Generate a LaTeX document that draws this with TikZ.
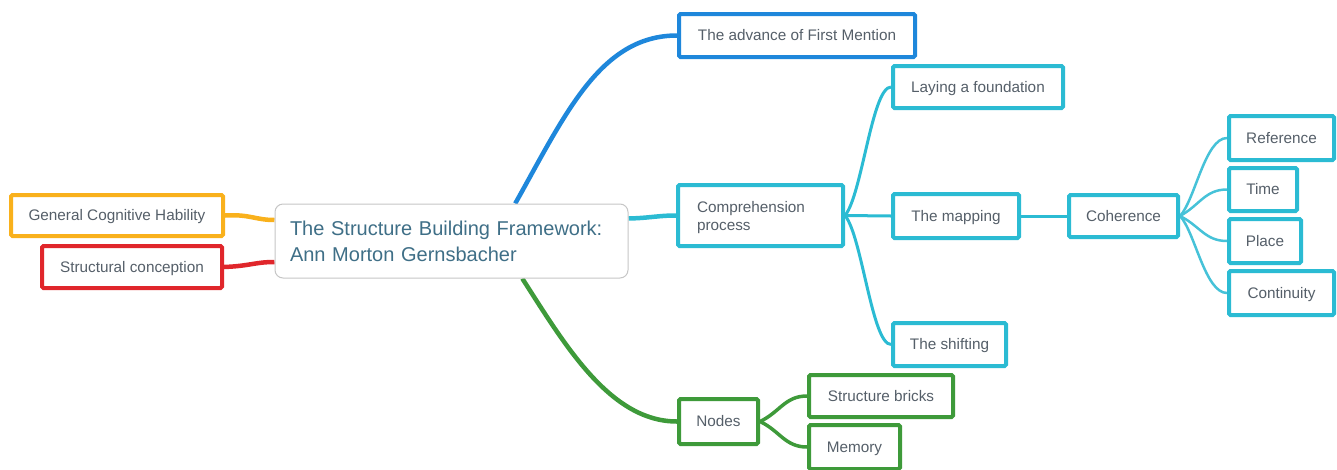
\documentclass[tikz,border=0pt]{standalone}
\usepackage{fontspec}
\setmainfont{Liberation Sans}
\usetikzlibrary{calc}
\pgfdeclarelayer{lines}
\pgfsetlayers{lines,main}
\definecolor{corange}{HTML}{F9B11C}
\definecolor{cred}{HTML}{E0262B}
\definecolor{cblue}{HTML}{1E87DB}
\definecolor{cteal}{HTML}{2BBBD3}
\definecolor{cteallight}{HTML}{46C2D8}
\definecolor{cgreen}{HTML}{3E9A3A}
\definecolor{ctext}{HTML}{555F69}
\definecolor{ctitle}{HTML}{3F6F87}
\definecolor{cgrey}{HTML}{C6C6C6}
\begin{document}
\begin{tikzpicture}[x=1pt,y=-1pt,
  box/.style={draw=#1, line width=4pt, rounded corners=1.5pt, fill=white, text=ctext,
    font=\fontsize{15.3}{18}\selectfont, inner sep=0pt, text height=12pt, text depth=1.5pt},
  central/.style={draw=cgrey, line width=1pt, rounded corners=8pt, fill=white, text=ctitle,
    font=\fontsize{20}{26}\selectfont, inner sep=0pt, align=left},
  mainline/.style={draw=#1, line width=4.5pt},
  subline/.style={draw=#1, line width=3pt},
  leafline/.style={draw=cteallight, line width=2.5pt}
]
\useasboundingbox (0,0) rectangle (1337,469);

\path
  node[central, minimum width=353pt, minimum height=74pt, text width=323pt] (c) at (451.5,241) {The Structure Building Framework:\\Ann Morton Gernsbacher}
  node[box=corange, minimum width=212pt, minimum height=41pt] (gen) at (117,215.5) {General Cognitive Hability}
  node[box=cred, minimum width=180pt, minimum height=42pt] (str) at (132,267) {Structural conception}
  node[box=cblue, minimum width=236pt, minimum height=43pt] (adv) at (797,35.5) {The advance of First Mention}
  node[box=cteal, minimum width=165pt, minimum height=61pt, text width=127pt, align=left, text height=, text depth=, inner ysep=0pt] (comp) at (760.5,215.5) {\rule{0pt}{16pt}Comprehension\\process}
  node[box=cteal, minimum width=170pt, minimum height=42pt] (lay) at (978,87) {Laying a foundation}
  node[box=cteal, minimum width=126pt, minimum height=44pt] (map) at (956,216) {The mapping}
  node[box=cteal, minimum width=109pt, minimum height=42pt] (coh) at (1123.5,216) {Coherence}
  node[box=cteal, minimum width=105pt, minimum height=44pt] (ref) at (1281.5,138) {Reference}
  node[box=cteal, minimum width=68pt, minimum height=43pt] (time) at (1263,189.5) {Time}
  node[box=cteal, minimum width=72pt, minimum height=44pt] (place) at (1265,241) {Place}
  node[box=cteal, minimum width=105pt, minimum height=44pt] (cont) at (1281.5,293) {Continuity}
  node[box=cteal, minimum width=113pt, minimum height=43pt] (shift) at (949.5,344.5) {The shifting}
  node[box=cgreen, minimum width=79pt, minimum height=45pt] (nodes) at (718.5,421.5) {Nodes}
  node[box=cgreen, minimum width=144pt, minimum height=42pt] (bricks) at (881,396) {Structure bricks}
  node[box=cgreen, minimum width=91pt, minimum height=44pt] (mem) at (854.5,447) {Memory};

\begin{pgfonlayer}{lines}
\draw[mainline=cblue] ($(c.north west)!0.68!(c.north east)$) .. controls (565,115) and (600,35.5) .. (adv.west);
\draw[mainline=cgreen] ($(c.south west)!0.70!(c.south east)$) .. controls (565,345) and (610,421.5) .. (nodes.west);
\draw[mainline=cteal] ($(c.north east)!0.2!(c.south east)$) .. controls (650,218) and (658,215.5) .. (comp.west);
\draw[mainline=corange] (gen.east) .. controls (250,214) and (255,220) .. ($(c.north west)!0.22!(c.south west)$);
\draw[mainline=cred] (str.east) .. controls (250,266) and (255,262) .. ($(c.north west)!0.78!(c.south west)$);

\draw[subline=cteal] (comp.east) .. controls (862,195) and (872,87) .. (lay.west);
\draw[subline=cteal] (comp.east) -- (map.west);
\draw[subline=cteal] (comp.east) .. controls (862,236) and (872,344.5) .. (shift.west);
\draw[subline=cteal] (map.east) -- (coh.west);

\draw[leafline] (coh.east) .. controls (1195,200) and (1205,138) .. (ref.west);
\draw[leafline] (coh.east) .. controls (1200,205) and (1205,189.5) .. (time.west);
\draw[leafline] (coh.east) .. controls (1200,226) and (1205,241) .. (place.west);
\draw[leafline] (coh.east) .. controls (1195,232) and (1205,293) .. (cont.west);

\draw[subline=cgreen, line width=3.5pt] (nodes.east) .. controls (780,412) and (785,396) .. (bricks.west);
\draw[subline=cgreen, line width=3.5pt] (nodes.east) .. controls (780,431) and (785,447) .. (mem.west);
\end{pgfonlayer}
\end{tikzpicture}
\end{document}
